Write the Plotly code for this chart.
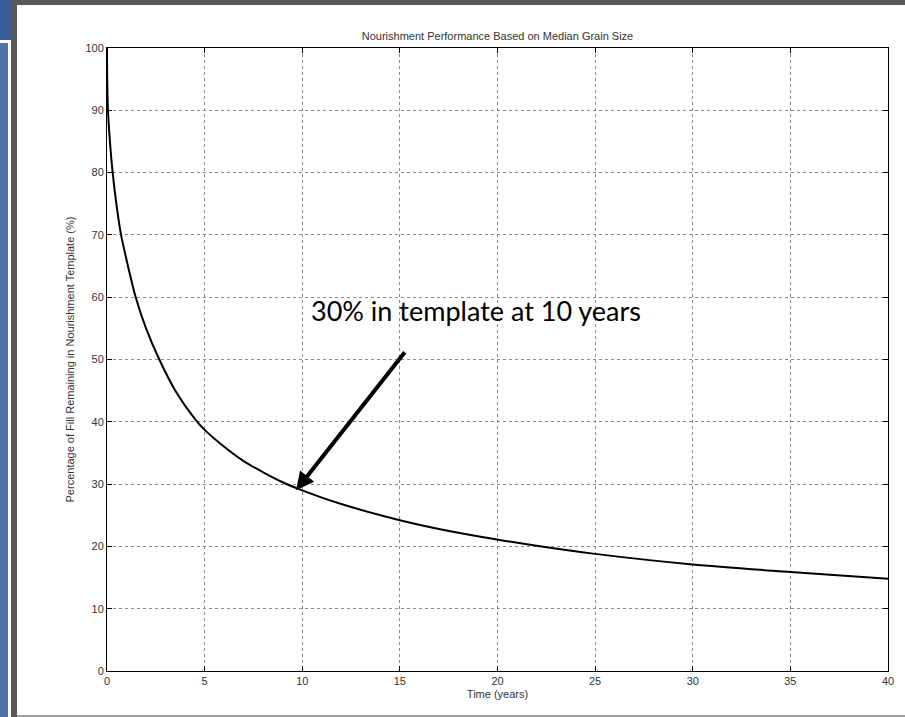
import plotly.graph_objects as go

# Data
time_years = [0, 0.01, 0.05, 0.15, 0.29, 0.5, 0.72, 1.0, 1.47, 2.0, 2.68, 3.5, 4.54,
              5, 6, 7, 8, 9, 10, 12, 15, 17, 19.6, 22, 25, 30, 35, 40]
pct_remaining = [100, 95, 90, 85, 80, 74.5, 70, 66, 60, 55, 50, 45.0, 40.3,
                 38.7, 36.0, 33.7, 31.9, 30.3, 29.0, 26.8, 24.2, 22.8, 21.3, 20.1, 18.8, 17.1, 15.9, 14.8]
x_ticks = [0, 5, 10, 15, 20, 25, 30, 35, 40]
y_ticks = [0, 10, 20, 30, 40, 50, 60, 70, 80, 90, 100]

annot_text = "30% in template at 10 years"
arrow_tip = (9.68, 29.0)
arrow_tail = (15.31, 51.4)
text_pos = (18.9, 57.9)

fig = go.Figure()
fig.add_trace(go.Scatter(x=time_years, y=pct_remaining, mode="lines",
                         line=dict(color="black", width=2, shape="spline", smoothing=0.8),
                         showlegend=False, hoverinfo="skip"))

axis_common = dict(showline=True, linecolor="black", linewidth=1, mirror="ticks",
                   ticks="inside", ticklen=5, tickcolor="black",
                   showgrid=True, gridcolor="#8a8a8a", griddash="dot", gridwidth=1,
                   zeroline=False,
                   tickfont=dict(family="Liberation Sans, Arial", size=11, color="#333"))

fig.update_xaxes(range=[0, 40], tickvals=x_ticks,
                 title=dict(text="Time (years)", standoff=4,
                            font=dict(family="Liberation Sans, Arial", size=11, color="#333")),
                 **axis_common)
fig.update_yaxes(range=[0, 100], tickvals=y_ticks,
                 title=dict(text="Percentage of Fill Remaining in Nourishment Template (%)", standoff=8,
                            font=dict(family="Liberation Sans, Arial", size=11, color="#333")),
                 **axis_common)

fig.add_annotation(x=arrow_tip[0], y=arrow_tip[1], ax=arrow_tail[0], ay=arrow_tail[1],
                   axref="x", ayref="y", xref="x", yref="y", text="", showarrow=True,
                   arrowhead=2, arrowwidth=4, arrowsize=0.9, arrowcolor="black")
fig.add_annotation(x=text_pos[0], y=text_pos[1], xref="x", yref="y", text=annot_text,
                   showarrow=False, font=dict(family="Lato, Open Sans", size=27, color="black"))


def px_x(p):
    return (p - 107) / 781


def px_y(p):
    return (671 - p) / 623


# Frame decoration (screenshot border)
shapes = [
    dict(type="rect", xref="paper", yref="paper", x0=px_x(0), x1=px_x(905), y0=px_y(5), y1=px_y(0),
         fillcolor="#595959", line_width=0, layer="below"),
    dict(type="rect", xref="paper", yref="paper", x0=px_x(0), x1=px_x(12), y0=px_y(40), y1=px_y(0),
         fillcolor="#3b5a98", line_width=0, layer="below"),
    dict(type="rect", xref="paper", yref="paper", x0=px_x(0), x1=px_x(8), y0=px_y(717), y1=px_y(43),
         fillcolor="#5170a6", line_width=0, layer="below"),
    dict(type="rect", xref="paper", yref="paper", x0=px_x(11), x1=px_x(17), y0=px_y(717), y1=px_y(0),
         fillcolor="#595959", line_width=0, layer="below"),
    dict(type="rect", xref="paper", yref="paper", x0=px_x(17), x1=px_x(905), y0=px_y(717), y1=px_y(715),
         fillcolor="#a0a0a0", line_width=0, layer="below"),
]

fig.update_layout(width=905, height=717, margin=dict(l=107, r=17, t=48, b=46),
                  paper_bgcolor="white", plot_bgcolor="white", shapes=shapes,
                  title=dict(text="Nourishment Performance Based on Median Grain Size",
                             x=(107 + 888) / 2 / 905, xanchor="center", y=1 - 36 / 717, yanchor="middle",
                             font=dict(family="Liberation Sans, Arial", size=11, color="#333")))

fig.write_html("out.html", config={"displayModeBar": False},
               post_script="document.body.style.margin='0';document.body.style.overflow='hidden';")
